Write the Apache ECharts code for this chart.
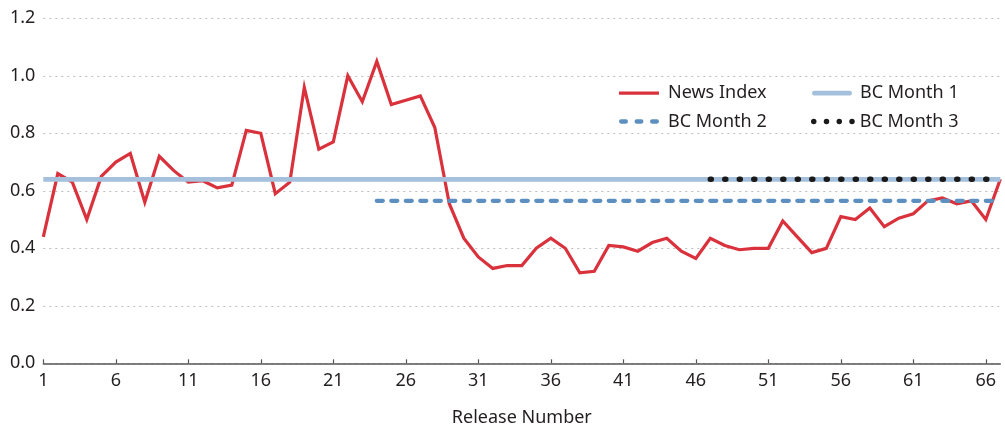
<!DOCTYPE html>
<html>
    <head>
        <meta charset='utf-8'>
        <title>News Index</title>
        <script src='https://cdn.jsdelivr.net/npm/echarts@6/dist/echarts.min.js'></script>
    </head>

    <body style='margin:0'>
    <div id='main' style='width: 1005px;height:426px;'></div>

    <script type='text/javascript'>
    // release numbers 1..67
    var releases = [];
    for (var r = 1; r <= 67; r++) releases.push(String(r));

    var newsIndex = [0.44, 0.66, 0.63, 0.50, 0.65, 0.70, 0.73, 0.56, 0.72, 0.67,
        0.63, 0.635, 0.61, 0.62, 0.81, 0.80, 0.59, 0.63, 0.96, 0.745,
        0.77, 1.00, 0.91, 1.05, 0.90, 0.915, 0.93, 0.82, 0.555, 0.435,
        0.37, 0.33, 0.34, 0.34, 0.40, 0.435, 0.40, 0.315, 0.32, 0.41,
        0.405, 0.39, 0.42, 0.435, 0.39, 0.365, 0.435, 0.41, 0.395, 0.40,
        0.40, 0.495, 0.44, 0.385, 0.40, 0.51, 0.50, 0.54, 0.475, 0.505,
        0.52, 0.565, 0.575, 0.555, 0.565, 0.50, 0.64];

    // flat benchmark levels and the release they start at
    var bcMonth1 = { level: 0.64, from: 1 };
    var bcMonth2 = { level: 0.565, from: 24 };
    var bcMonth3 = { level: 0.64, from: 47 };

    function flat(bc) {
        return releases.map(function (r, i) {
            return (i + 1) >= bc.from ? bc.level : null;
        });
    }

    var font = 'Noto Sans';
    var textColor = '#231f20';
    var fontSize = 18;

    // legend icons drawn as paths so the swatches look like the lines
    function circle(cx, cy, rr) {
        return 'M' + (cx - rr) + ',' + cy + 'A' + rr + ',' + rr + ',0,1,0,' + (cx + rr) + ',' + cy +
            'A' + rr + ',' + rr + ',0,1,0,' + (cx - rr) + ',' + cy + 'Z';
    }
    function pill(x0, x1, h) {
        var rr = h / 2;
        return 'M' + (x0 + rr) + ',0H' + (x1 - rr) + 'A' + rr + ',' + rr + ',0,0,1,' + (x1 - rr) + ',' + h +
            'H' + (x0 + rr) + 'A' + rr + ',' + rr + ',0,0,1,' + (x0 + rr) + ',0Z';
    }
    var iconRed = 'path://M0,0H40V3.2H0Z';
    var iconBlue = 'path://' + pill(0, 40, 4.7);
    var iconDash = 'path://' + pill(0, 9, 4.3) + pill(15.5, 24.5, 4.3) + pill(31, 40, 4.3);
    var iconDots = 'path://' + circle(2.75, 2.75, 2.75) + circle(15.5, 2.75, 2.75) +
        circle(28.25, 2.75, 2.75) + circle(41, 2.75, 2.75);

    function legendItem(name, icon, left, centerY, w, h, pad) {
        return {
            left: left,
            top: centerY - 7.5,
            padding: 0,
            itemWidth: w,
            itemHeight: h,
            selectedMode: false,
            data: [{ name: name, icon: icon }],
            textStyle: { fontFamily: font, fontSize: fontSize, color: textColor, padding: [0, 0, 0, pad] }
        };
    }

    var myChart = echarts.init(document.getElementById('main'));

    var option = {
        animation: false,
        grid: { left: 43.3, right: 4.7, top: 18.3, bottom: 62.7, outerBoundsMode: 'none' },
        legend: [
            legendItem('News Index', iconRed, 619, 91.7, 40, 3.2, 4),
            legendItem('BC Month 2', iconDash, 619, 120, 40, 4.3, 4),
            legendItem('BC Month 1', iconBlue, 812, 91.7, 40, 4.7, 3),
            legendItem('BC Month 3', iconDots, 811, 120, 43.75, 5.5, 0)
        ],
        xAxis: {
            type: 'category',
            data: releases,
            boundaryGap: false,
            name: 'Release Number',
            nameLocation: 'middle',
            nameGap: 46,
            nameTextStyle: { fontFamily: font, fontSize: fontSize, color: textColor },
            axisLine: { lineStyle: { color: '#555', width: 1.5 } },
            axisTick: { inside: true, length: 4, interval: 4, lineStyle: { color: '#555', width: 1.2 } },
            axisLabel: { interval: 4, margin: 9, fontFamily: font, fontSize: fontSize, color: textColor },
            splitLine: { show: false }
        },
        yAxis: {
            type: 'value',
            min: 0,
            max: 1.2,
            interval: 0.2,
            axisLine: { show: false },
            axisTick: { show: false },
            axisLabel: {
                margin: 8, fontFamily: font, fontSize: fontSize, color: textColor,
                formatter: function (v) { return v.toFixed(1); }
            },
            splitLine: { lineStyle: { color: '#bdbdbd', width: 1, type: [2, 4] } }
        },
        series: [
            {
                name: 'News Index',
                type: 'line',
                data: newsIndex,
                symbol: 'none',
                z: 2,
                color: '#d9323c',
                lineStyle: { width: 3.2, color: '#d9323c', join: 'miter' }
            },
            {
                name: 'BC Month 1',
                type: 'line',
                data: flat(bcMonth1),
                symbol: 'none',
                z: 3,
                color: '#a5c0dc',
                lineStyle: { width: 4.7, color: '#a5c0dc' }
            },
            {
                name: 'BC Month 2',
                type: 'line',
                data: flat(bcMonth2),
                symbol: 'none',
                z: 4,
                color: '#5d90c0',
                lineStyle: { width: 4.3, color: '#5d90c0', type: [6, 8.5], cap: 'round' }
            },
            {
                name: 'BC Month 3',
                type: 'line',
                data: flat(bcMonth3),
                symbol: 'none',
                z: 5,
                color: '#1a1a1a',
                lineStyle: { width: 5.5, color: '#1a1a1a', type: [1, 13.5], cap: 'round' }
            }
        ]
    };

    myChart.setOption(option);
    </script>
    </body>
</html>
